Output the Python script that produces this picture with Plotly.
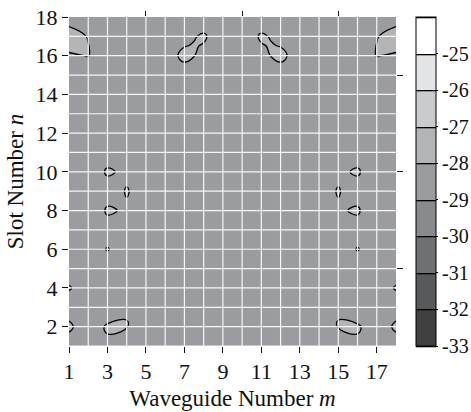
import plotly.graph_objects as go

# Waveguide number m (x) and slot number n (y); extra sample lines at 7.5, 11.5 and 16.5
waveguide = [1, 2, 3, 4, 5, 6, 7, 7.5, 8, 9, 10, 11, 11.5, 12, 13, 14, 15, 16, 17, 18]
slot = [1, 2, 3, 4, 5, 6, 7, 8, 9, 10, 11, 12, 13, 14, 15, 16, 16.5, 17, 18]

# Field level in dB, rows follow `slot`, columns follow `waveguide`
z_db = [
    [-28.5, -28.5, -28.25, -28.9, -28.5, -28.5, -28.5, -28.5, -28.5, -28.5, -28.5, -28.5, -28.5, -28.5, -28.5, -28.5, -28.9, -28.25, -28.5, -28.5],
    [-27.8, -28.7, -27.85, -27.95, -28.9, -28.5, -28.5, -28.5, -28.5, -28.5, -28.5, -28.5, -28.5, -28.5, -28.5, -28.9, -27.95, -27.85, -28.7, -27.8],
    [-28.5, -28.5, -28.9, -28.1, -28.5, -28.5, -28.5, -28.5, -28.5, -28.5, -28.5, -28.5, -28.5, -28.5, -28.5, -28.5, -28.1, -28.9, -28.5, -28.5],
    [-27.92, -28.5, -28.5, -28.5, -28.5, -28.5, -28.5, -28.5, -28.5, -28.5, -28.5, -28.5, -28.5, -28.5, -28.5, -28.5, -28.5, -28.5, -28.5, -27.92],
    [-28.5, -28.5, -28.5, -28.5, -28.5, -28.5, -28.5, -28.5, -28.5, -28.5, -28.5, -28.5, -28.5, -28.5, -28.5, -28.5, -28.5, -28.5, -28.5, -28.5],
    [-28.5, -28.5, -27.95, -28.5, -28.5, -28.5, -28.5, -28.5, -28.5, -28.5, -28.5, -28.5, -28.5, -28.5, -28.5, -28.5, -28.5, -27.95, -28.5, -28.5],
    [-28.5, -28.5, -28.5, -28.5, -28.5, -28.5, -28.5, -28.5, -28.5, -28.5, -28.5, -28.5, -28.5, -28.5, -28.5, -28.5, -28.5, -28.5, -28.5, -28.5],
    [-28.5, -28.95, -27.85, -28.15, -28.5, -28.5, -28.5, -28.5, -28.5, -28.5, -28.5, -28.5, -28.5, -28.5, -28.5, -28.5, -28.15, -27.85, -28.95, -28.5],
    [-28.5, -28.5, -28.55, -27.93, -28.5, -28.5, -28.5, -28.5, -28.5, -28.5, -28.5, -28.5, -28.5, -28.5, -28.5, -28.5, -27.93, -28.55, -28.5, -28.5],
    [-28.5, -28.85, -27.85, -28.23, -28.5, -28.5, -28.5, -28.5, -28.5, -28.5, -28.5, -28.5, -28.5, -28.5, -28.5, -28.5, -28.23, -27.85, -28.85, -28.5],
    [-28.5, -28.5, -28.6, -28.5, -28.5, -28.5, -28.5, -28.5, -28.5, -28.5, -28.5, -28.5, -28.5, -28.5, -28.5, -28.5, -28.5, -28.6, -28.5, -28.5],
    [-28.5, -28.5, -28.5, -28.5, -28.5, -28.5, -28.5, -28.5, -28.5, -28.5, -28.5, -28.5, -28.5, -28.5, -28.5, -28.5, -28.5, -28.5, -28.5, -28.5],
    [-28.5, -28.5, -28.5, -28.5, -28.5, -28.5, -28.5, -28.5, -28.5, -28.5, -28.5, -28.5, -28.5, -28.5, -28.5, -28.5, -28.5, -28.5, -28.5, -28.5],
    [-28.5, -28.5, -28.5, -28.5, -28.5, -28.5, -28.5, -28.5, -28.5, -28.5, -28.5, -28.5, -28.5, -28.5, -28.5, -28.5, -28.5, -28.5, -28.5, -28.5],
    [-28.5, -28.5, -28.5, -28.5, -28.5, -28.5, -28.5, -28.5, -28.5, -28.5, -28.5, -28.5, -28.5, -28.5, -28.5, -28.5, -28.5, -28.5, -28.5, -28.5],
    [-28.1, -27.97, -28.5, -28.5, -28.5, -28.5, -27.75, -27.97, -28.5, -28.5, -28.5, -28.5, -27.97, -27.75, -28.5, -28.5, -28.5, -28.5, -27.97, -28.1],
    [-27.8, -27.98, -28.5, -28.5, -28.5, -28.5, -28.03, -27.95, -28.05, -28.5, -28.5, -28.05, -27.95, -28.03, -28.5, -28.5, -28.5, -28.5, -27.98, -27.8],
    [-27.6, -28.05, -28.5, -28.5, -28.5, -28.5, -28.5, -28.05, -27.9, -28.5, -28.5, -27.9, -28.05, -28.5, -28.5, -28.5, -28.5, -28.5, -28.05, -27.6],
    [-28.4, -28.5, -28.5, -28.5, -28.5, -28.5, -28.5, -28.5, -28.5, -28.5, -28.5, -28.5, -28.5, -28.5, -28.5, -28.5, -28.5, -28.5, -28.5, -28.4],
]

# Contour levels and band colours (bottom band -33..-32 up to -25..-24)
level_start = -33
level_end = -24
level_step = 1
band_colors = ["#404040", "#58595b", "#6f7073", "#898a8d", "#9b9c9f",
               "#b3b4b6", "#cacbcd", "#e3e4e6", "#ffffff"]
cbar_ticks = [-33, -32, -31, -30, -29, -28, -27, -26, -25]
cbar_labels = ["-33", "-32", "-31", "-30", "-29", "-28", "-27", "-26", "-25"]

x_ticks = [1, 3, 5, 7, 9, 11, 13, 15, 17]
y_ticks = [2, 4, 6, 8, 10, 12, 14, 16, 18]
minor_ticks = [5, 10, 15]
grid_x = list(range(2, 18))
grid_y = list(range(1, 18))

FONT = "Liberation Serif"

# colour scale over zmin..zmax: band k is sampled at its midpoint
n_b = len(band_colors)
colorscale = [[0.0, band_colors[0]]]
for k, c in enumerate(band_colors):
    colorscale.append([(k + 0.5) / n_b, c])
colorscale.append([1.0, band_colors[-1]])

fig = go.Figure()
fig.add_trace(go.Contour(
    x=waveguide, y=slot, z=z_db,
    zmin=level_start, zmax=level_end,
    contours=dict(start=level_start, end=level_end, size=level_step,
                  coloring="fill", showlines=True),
    line=dict(color="#000000", width=1.3, smoothing=1.3),
    colorscale=colorscale,
    hoverinfo="skip",
    colorbar=dict(
        thickness=20, thicknessmode="pixels",
        len=1, lenmode="fraction", y=0.5, yanchor="middle",
        x=1.06, xanchor="left", xpad=0, ypad=0,
        outlinecolor="black", outlinewidth=1,
        tickvals=cbar_ticks, ticktext=cbar_labels,
        ticks="outside", ticklen=2, tickcolor="black",
        tickfont=dict(family=FONT, size=20, color="#111111"),
    ),
))
fig.add_trace(go.Scatter(x=[], y=[], xaxis="x2", yaxis="y2",
                         showlegend=False, hoverinfo="skip"))

for gx in grid_x:
    fig.add_shape(type="line", x0=gx, x1=gx, y0=0, y1=1, xref="x", yref="y domain",
                  line=dict(color="#f6f6f6", width=1.2), layer="above")
for gy in grid_y:
    fig.add_shape(type="line", y0=gy, y1=gy, x0=0, x1=1, yref="y", xref="x domain",
                  line=dict(color="#f6f6f6", width=1.2), layer="above")

axis_common = dict(showgrid=False, zeroline=False, showline=False,
                   ticks="outside", tickcolor="#111111", tickwidth=1,
                   tickfont=dict(family=FONT, size=22, color="#111111"))

fig.update_layout(
    width=471, height=412,
    margin=dict(l=69, r=75, t=17, b=66, autoexpand=False),
    paper_bgcolor="white", plot_bgcolor="white",
    font=dict(family=FONT, color="#111111"),
    xaxis=dict(range=[1, 18], tickvals=x_ticks, ticklen=6,
               title=dict(text="Waveguide Number <i>m</i>",
                          font=dict(family=FONT, size=23), standoff=6),
               **axis_common),
    yaxis=dict(range=[1, 18], tickvals=y_ticks, ticklen=6,
               title=dict(text="Slot Number <i>n</i>",
                          font=dict(family=FONT, size=23), standoff=5),
               **axis_common),
    xaxis2=dict(range=[1, 18], overlaying="x", side="top", tickvals=minor_ticks,
                ticklen=5, showticklabels=False, showgrid=False, zeroline=False,
                ticks="outside", tickcolor="#111111"),
    yaxis2=dict(range=[1, 18], overlaying="y", side="right", tickvals=minor_ticks,
                ticklen=6, showticklabels=False, showgrid=False, zeroline=False,
                ticks="outside", tickcolor="#111111", anchor="x2"),
)

fig.write_html("out.html")
